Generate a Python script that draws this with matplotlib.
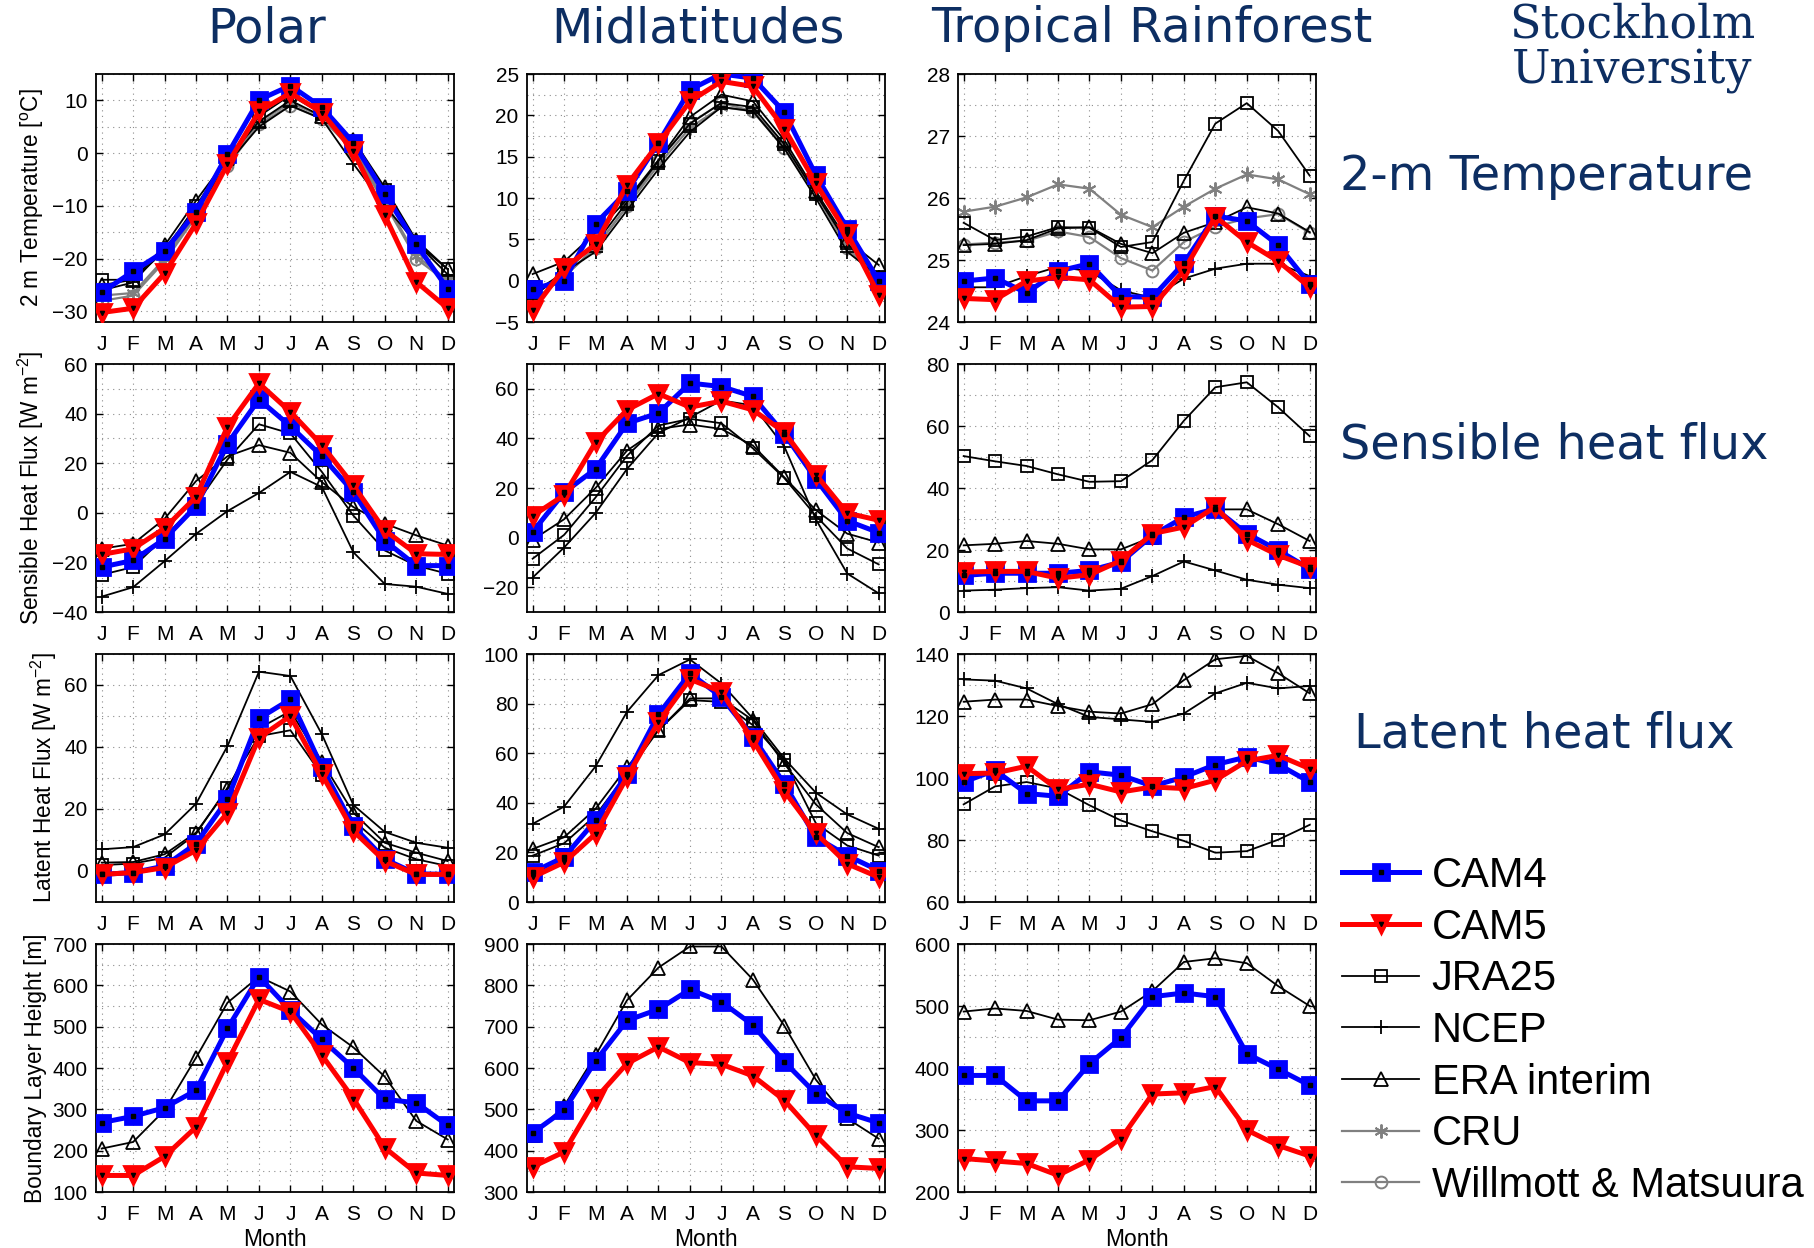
import matplotlib
matplotlib.use("Agg")
import matplotlib.pyplot as plt
from matplotlib.ticker import MultipleLocator

plt.rcParams["font.family"] = ["Liberation Sans", "DejaVu Sans"]
plt.rcParams["mathtext.default"] = "regular"

MONTHS = ["J", "F", "M", "A", "M", "J", "J", "A", "S", "O", "N", "D"]
REGIONS = ["Polar", "Midlatitudes", "Tropical Rainforest"]
NAVY = "#0d2e62"

# ---- 2 m temperature [degC] ---------------------------------------------
t2m_polar = {
    "CAM4": [-26.4, -22.4, -18.6, -11.1, -0.2, 10.1, 12.8, 8.7, 2.0, -7.7, -17.3, -25.7],
    "CAM5": [-30.2, -29.4, -22.8, -13.3, -2.1, 7.9, 11.4, 7.7, 0.4, -11.8, -24.4, -29.4],
    "JRA25": [-24.0, -24.0, -18.5, -10.0, -1.0, 7.0, 11.0, 7.5, 1.5, -7.0, -17.0, -22.0],
    "NCEP": [-26.0, -24.5, -18.0, -11.0, -2.0, 5.0, 9.0, 6.5, -2.0, -10.0, -17.0, -23.0],
    "ERA interim": [-25.0, -24.0, -17.5, -9.0, -1.0, 6.0, 10.0, 7.0, 2.5, -6.5, -16.5, -22.0],
    "CRU": [-27.0, -26.5, -20.0, -11.5, -2.0, 6.0, 9.5, 7.0, 1.0, -9.0, -19.5, -24.0],
    "Willmott & Matsuura": [-28.0, -27.0, -20.5, -12.0, -2.5, 5.5, 9.0, 6.5, 0.5, -9.5, -20.0, -24.5],
}
t2m_midlat = {
    "CAM4": [-1.0, 0.0, 6.9, 10.8, 16.7, 23.1, 25.0, 24.5, 20.4, 12.8, 6.3, 0.0],
    "CAM5": [-3.6, 1.5, 4.4, 11.6, 16.6, 21.7, 24.1, 23.5, 18.4, 11.8, 5.7, -1.7],
    "JRA25": [-1.5, 1.0, 4.5, 9.5, 14.5, 19.0, 21.5, 21.0, 16.5, 10.5, 4.5, 0.5],
    "NCEP": [-2.0, 1.0, 3.5, 8.5, 13.5, 18.0, 21.0, 20.5, 16.0, 10.0, 3.5, 0.5],
    "ERA interim": [0.8, 2.3, 5.8, 9.8, 14.6, 19.8, 22.5, 21.7, 17.0, 10.8, 4.9, 1.9],
    "CRU": [-2.5, 0.5, 4.0, 9.0, 14.0, 18.5, 21.0, 20.5, 16.5, 10.5, 4.5, 0.0],
    "Willmott & Matsuura": [-2.5, 0.5, 4.0, 9.0, 14.5, 19.0, 21.5, 20.5, 16.0, 10.5, 4.0, 0.0],
}
t2m_tropic = {
    "CAM4": [24.66, 24.71, 24.47, 24.82, 24.94, 24.41, 24.40, 24.95, 25.71, 25.63, 25.24, 24.61],
    "CAM5": [24.38, 24.36, 24.66, 24.72, 24.68, 24.24, 24.25, 24.83, 25.70, 25.29, 24.98, 24.56],
    "JRA25": [25.60, 25.32, 25.38, 25.53, 25.52, 25.21, 25.29, 26.28, 27.20, 27.53, 27.08, 26.36],
    "NCEP": [24.56, 24.56, 24.74, 24.89, 24.82, 24.51, 24.39, 24.70, 24.86, 24.94, 24.94, 24.74],
    "ERA interim": [25.24, 25.26, 25.32, 25.51, 25.53, 25.26, 25.11, 25.44, 25.61, 25.85, 25.75, 25.45],
    "CRU": [25.78, 25.86, 26.01, 26.22, 26.15, 25.73, 25.53, 25.86, 26.15, 26.38, 26.30, 26.06],
    "Willmott & Matsuura": [25.25, 25.28, 25.31, 25.46, 25.37, 25.03, 24.83, 25.29, 25.54, 25.67, 25.74, 25.44],
}

# ---- sensible heat flux [W m-2] ------------------------------------------
shf_polar = {
    "CAM4": [-21.9, -19.2, -10.5, 2.6, 27.9, 45.7, 34.9, 22.8, 8.4, -11.2, -21.3, -21.3],
    "CAM5": [-16.8, -14.5, -6.2, 6.4, 34.7, 52.2, 40.7, 27.3, 11.1, -7.1, -16.5, -16.8],
    "JRA25": [-25.0, -21.9, -9.8, 3.4, 21.5, 35.7, 32.0, 16.5, -1.1, -15.2, -21.3, -24.6],
    "NCEP": [-33.8, -30.0, -19.5, -8.5, 0.7, 8.0, 16.5, 10.4, -15.9, -28.7, -29.8, -32.7],
    "ERA interim": [-14.5, -12.5, -2.4, 12.8, 22.8, 27.3, 24.2, 12.4, 2.3, -4.4, -9.1, -13.2],
}
shf_midlat = {
    "CAM4": [2.3, 18.2, 27.7, 46.1, 50.2, 62.3, 60.9, 56.9, 41.8, 23.6, 6.8, 2.0],
    "CAM5": [8.8, 17.1, 38.4, 51.5, 58.0, 52.6, 55.0, 51.5, 42.5, 25.4, 9.9, 7.0],
    "JRA25": [-8.5, 1.1, 16.2, 33.0, 45.2, 47.9, 46.1, 36.0, 24.0, 8.8, -4.4, -10.8],
    "NCEP": [-16.1, -4.0, 9.9, 27.7, 42.2, 48.5, 55.3, 53.3, 36.7, 7.4, -14.5, -22.5],
    "ERA interim": [-0.9, 7.4, 20.0, 35.1, 43.8, 45.6, 43.8, 37.1, 24.3, 11.1, 1.6, -2.0],
}
shf_tropic = {
    "CAM4": [11.8, 12.5, 12.5, 12.5, 13.4, 16.1, 24.7, 30.6, 33.3, 25.3, 19.9, 13.9],
    "CAM5": [12.9, 13.1, 13.1, 10.9, 12.0, 16.6, 25.3, 27.4, 33.9, 23.3, 18.3, 14.5],
    "JRA25": [50.3, 48.6, 47.1, 44.4, 42.0, 42.2, 49.0, 61.7, 72.5, 74.1, 66.0, 56.7],
    "NCEP": [6.9, 7.2, 7.7, 8.0, 6.9, 7.5, 11.6, 16.3, 13.4, 10.4, 8.8, 7.7],
    "ERA interim": [21.5, 22.0, 22.9, 22.0, 20.2, 20.2, 24.2, 30.6, 33.1, 33.1, 28.3, 22.9],
}

# ---- latent heat flux [W m-2] --------------------------------------------
lhf_polar = {
    "CAM4": [-1.1, -0.5, 1.6, 8.8, 23.1, 49.2, 55.4, 33.5, 14.5, 3.8, -0.9, -1.1],
    "CAM5": [-1.1, -0.5, 1.1, 6.7, 18.8, 43.0, 50.0, 31.2, 12.9, 3.2, -1.1, -1.1],
    "JRA25": [1.9, 2.4, 4.3, 12.0, 26.9, 43.5, 45.4, 31.0, 16.3, 7.5, 3.8, 1.6],
    "NCEP": [7.0, 7.7, 11.8, 21.7, 40.3, 64.3, 62.9, 44.1, 21.3, 12.6, 9.1, 7.5],
    "ERA interim": [2.7, 2.9, 5.4, 12.4, 26.3, 46.0, 51.6, 35.3, 18.8, 9.1, 5.9, 3.2],
}
lhf_midlat = {
    "CAM4": [12.0, 18.1, 32.9, 51.5, 75.7, 92.2, 82.7, 66.6, 47.7, 26.1, 18.7, 12.7],
    "CAM5": [10.0, 16.0, 27.5, 50.4, 72.6, 89.8, 84.8, 65.2, 44.7, 27.8, 15.4, 10.0],
    "JRA25": [18.7, 23.7, 34.9, 51.8, 69.3, 81.4, 80.7, 71.3, 57.1, 31.8, 22.8, 18.7],
    "NCEP": [31.5, 38.5, 54.7, 76.7, 91.5, 97.8, 88.1, 74.0, 57.8, 44.1, 35.3, 29.5],
    "ERA interim": [21.4, 26.1, 37.6, 54.4, 69.3, 82.1, 82.1, 73.3, 55.8, 39.4, 27.8, 22.1],
}
lhf_tropic = {
    "CAM4": [98.7, 102.5, 95.0, 94.1, 102.0, 100.9, 97.4, 100.3, 104.3, 106.8, 104.4, 98.7],
    "CAM5": [101.4, 101.6, 103.8, 96.3, 98.0, 95.5, 97.1, 96.6, 99.3, 105.5, 107.3, 103.0],
    "JRA25": [91.5, 97.3, 98.7, 96.6, 91.2, 86.3, 82.8, 79.7, 75.9, 76.4, 80.1, 84.9],
    "NCEP": [131.8, 131.4, 128.9, 123.8, 119.7, 118.9, 118.1, 120.8, 127.3, 130.7, 128.9, 129.7],
    "ERA interim": [124.6, 125.3, 125.3, 123.2, 121.4, 120.8, 123.8, 131.6, 138.3, 139.4, 133.8, 127.3],
}

# ---- boundary layer height [m] -------------------------------------------
blh_polar = {
    "CAM4": [268, 283, 304, 346, 496, 621, 540, 469, 400, 324, 316, 261],
    "CAM5": [140, 140, 186, 257, 415, 566, 536, 431, 326, 207, 146, 140],
    "ERA interim": [205, 221, 298, 425, 558, 621, 585, 505, 450, 379, 272, 227],
}
blh_midlat = {
    "CAM4": [443, 498, 617, 715, 742, 790, 760, 704, 615, 538, 491, 467],
    "CAM5": [361, 397, 526, 611, 651, 613, 609, 581, 522, 437, 361, 357],
    "ERA interim": [437, 508, 631, 764, 843, 894, 894, 814, 702, 572, 478, 429],
}
blh_tropic = {
    "CAM4": [388, 388, 347, 347, 407, 449, 515, 521, 515, 423, 398, 372],
    "CAM5": [254, 250, 246, 227, 252, 286, 358, 360, 370, 300, 275, 258],
    "ERA interim": [491, 496, 492, 478, 477, 491, 524, 571, 577, 569, 532, 500],
}

ROWS = [
    ([t2m_polar, t2m_midlat, t2m_tropic], r"2 m Temperature [$^{o}$C]",
     [(-32, 15, 10), (-5, 25, 5), (24, 28, 1)]),
    ([shf_polar, shf_midlat, shf_tropic], r"Sensible Heat Flux [W m$^{-2}$]",
     [(-40, 60, 20), (-30, 70, 20), (0, 80, 20)]),
    ([lhf_polar, lhf_midlat, lhf_tropic], r"Latent Heat Flux [W m$^{-2}$]",
     [(-10, 70, 20), (0, 100, 20), (60, 140, 20)]),
    ([blh_polar, blh_midlat, blh_tropic], "Boundary Layer Height [m]",
     [(100, 700, 100), (300, 900, 100), (200, 600, 100)]),
]
ROW_NAMES = ["2-m Temperature", "Sensible heat flux", "Latent heat flux"]

ORDER = ["Willmott & Matsuura", "CRU", "ERA interim", "NCEP", "JRA25", "CAM4", "CAM5"]
LEGEND_ORDER = ["CAM4", "CAM5", "JRA25", "NCEP", "ERA interim", "CRU", "Willmott & Matsuura"]

STYLE = {
    "CAM4": dict(color="#0000ff", lw=3.6, marker="s", ms=11, mfc="#0000ff", mec="#0000ff", mew=2),
    "CAM5": dict(color="#ff0000", lw=3.6, marker="v", ms=13, mfc="#ff0000", mec="#ff0000", mew=2),
    "JRA25": dict(color="black", lw=1.3, marker="s", ms=8.5, mfc="none", mec="black", mew=1.3),
    "NCEP": dict(color="black", lw=1.3, marker="+", ms=10, mec="black", mew=1.3),
    "ERA interim": dict(color="black", lw=1.3, marker="^", ms=10, mfc="none", mec="black", mew=1.3),
    # six-armed asterisk, like the MATLAB '*' marker
    "CRU": dict(color="#808080", lw=1.6, marker=(6, 2, 0), ms=10, mec="#808080", mew=1.4),
    "Willmott & Matsuura": dict(color="#808080", lw=1.6, marker="o", ms=8.5, mfc="none",
                                mec="#808080", mew=1.4),
}
# small black centre marks on the model curves
DOT = {"CAM4": "s", "CAM5": "v"}

W, H = 1814, 1248
fig = plt.figure(figsize=(W / 100, H / 100), dpi=100)

col_left = [96, 527, 958]
row_top = [74, 364, 654, 944]
ax_w, ax_h = 358, 248
x = list(range(1, 13))
handles = {}

for r, (panels, ylabel, limits) in enumerate(ROWS):
    for c, data in enumerate(panels):
        ax = fig.add_axes([col_left[c] / W, 1 - (row_top[r] + ax_h) / H, ax_w / W, ax_h / H])
        for name in ORDER:
            if name not in data:
                continue
            ln, = ax.plot(x, data[name], **STYLE[name], zorder=3 if name in DOT else 2)
            items = [ln]
            if name in DOT:
                dot, = ax.plot(x, data[name], ls="none", marker=DOT[name], ms=3,
                               color="black", zorder=4)
                items.append(dot)
            handles.setdefault(name, tuple(items))
        lo, hi, step = limits[c]
        ax.set_xlim(0.82, 12.2)
        ax.set_ylim(lo, hi)
        ax.set_xticks(x)
        ax.set_xticklabels(MONTHS)
        ax.yaxis.set_major_locator(MultipleLocator(step))
        ax.yaxis.set_minor_locator(MultipleLocator(step / 2))
        ax.grid(True, which="both", axis="y", ls=(0, (1, 4)), color="#8c8c8c", lw=0.8)
        ax.grid(True, which="major", axis="x", ls=(0, (1, 4)), color="#8c8c8c", lw=0.8)
        ax.tick_params(which="major", direction="in", length=5, width=1, top=True,
                       right=True, labelsize=15, pad=6)
        ax.tick_params(axis="x", labelsize=15, pad=9)
        ax.tick_params(which="minor", length=0)
        for sp in ax.spines.values():
            sp.set_linewidth(1.3)
        if c == 0:
            ax.set_ylabel(ylabel, fontsize=16.3, labelpad=4)
        if r == 3:
            ax.set_xlabel("Month", fontsize=16.5, labelpad=3)

# column headings
title_x = [267, 698, 1152]
for px, name in zip(title_x, REGIONS):
    fig.text(px / W, 1 - 29 / H, name, ha="center", va="center",
             fontsize=34.5, color=NAVY, family="DejaVu Sans")

fig.text(1632 / W, 1 - 25 / H, "Stockholm", ha="center", va="center", fontsize=33,
         color=NAVY, family="DejaVu Serif")
fig.text(1632 / W, 1 - 71 / H, "University", ha="center", va="center", fontsize=33,
         color=NAVY, family="DejaVu Serif")

row_label_pos = [(1340, 176), (1340, 445), (1354, 734)]
for (px, py), name in zip(row_label_pos, ROW_NAMES):
    fig.text(px / W, 1 - py / H, name, ha="left", va="center", fontsize=34.5,
             color=NAVY, family="DejaVu Sans")

fig.legend([handles[n] for n in LEGEND_ORDER], LEGEND_ORDER, loc="upper left",
           bbox_to_anchor=(1342 / W, 1 - 856 / H), frameon=False, fontsize=30,
           handlelength=1.85, handletextpad=0.3, labelspacing=0.28, borderpad=0,
           borderaxespad=0, numpoints=1)

fig.savefig("out.png", dpi=100)
